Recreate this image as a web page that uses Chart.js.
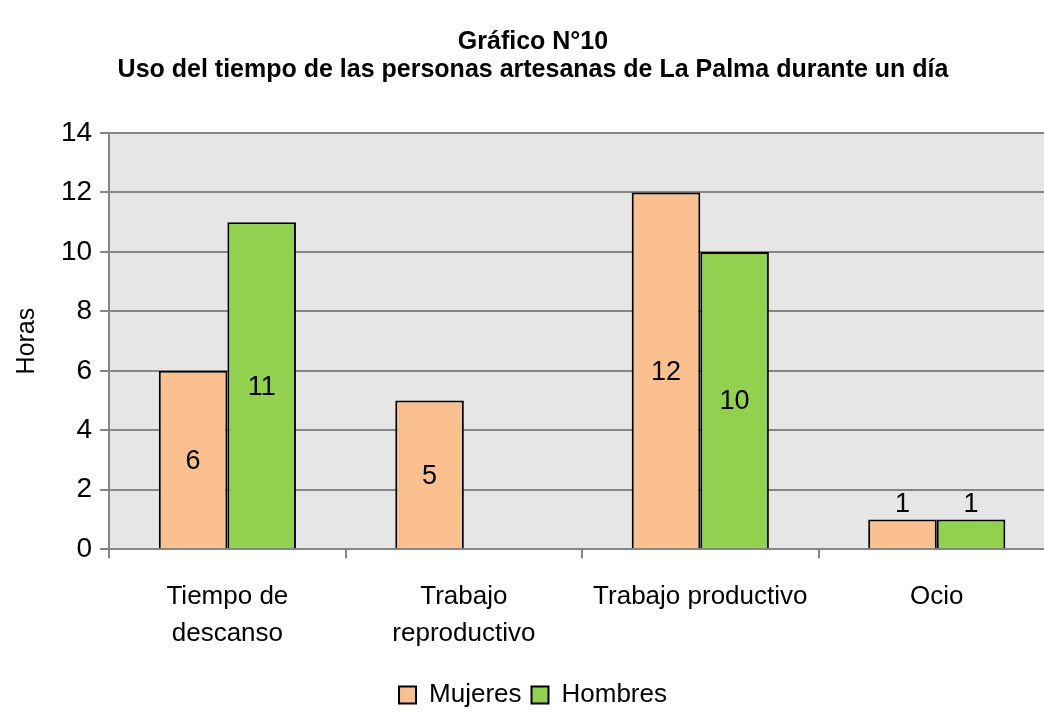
<!DOCTYPE html>
<html>
<head>
<meta charset="utf-8">
<script src="https://cdn.jsdelivr.net/npm/chart.js@4/dist/chart.umd.min.js"></script>
<style>
  html, body { margin: 0; padding: 0; background: #fff; overflow: hidden; }
  #wrap { width: 1074px; height: 713px; }
</style>
</head>
<body>
<div id="wrap"><canvas id="chart" width="1074" height="713"></canvas></div>
<script>
/* Gráfico N°10 — uso del tiempo, artesanas/os de La Palma */

var FONT = "'Liberation Sans Narrow', 'Liberation Sans', Arial, sans-serif";
var GRID = '#868686';

var TITLE_LINES = ['Gráfico N°10', 'Uso del tiempo de las personas artesanas de La Palma durante un día'];
var CATEGORIES = [['Tiempo de', 'descanso'], ['Trabajo', 'reproductivo'], 'Trabajo productivo', 'Ocio'];
var MUJERES = [6, 5, 12, 1];
var HOMBRES = [11, 0, 10, 1];
var Y_TICKS = [0, 2, 4, 6, 8, 10, 12, 14];

/* gray plot background */
var plotBg = {
  id: 'plotBg',
  beforeDraw: function(chart) {
    var a = chart.chartArea, ctx = chart.ctx;
    ctx.save();
    ctx.fillStyle = '#e6e6e6';
    ctx.fillRect(a.left, a.top, a.right - a.left, a.bottom - a.top);
    ctx.restore();
  }
};

/* value labels: centred in the bar, above it when the bar is too short */
var barValues = {
  id: 'barValues',
  afterDatasetsDraw: function(chart) {
    var ctx = chart.ctx;
    ctx.save();
    ctx.font = '27px ' + FONT;
    ctx.fillStyle = '#000';
    ctx.textAlign = 'center';
    chart.data.datasets.forEach(function(ds, i) {
      chart.getDatasetMeta(i).data.forEach(function(bar, j) {
        var v = ds.data[j];
        if (!v) return;
        var h = bar.base - bar.y;
        if (h > 40) {
          ctx.textBaseline = 'middle';
          ctx.fillText(String(v), bar.x, bar.y + h / 2 + 2);
        } else {
          ctx.textBaseline = 'bottom';
          ctx.fillText(String(v), bar.x, bar.y - 1);
        }
      });
    });
    ctx.restore();
  }
};

new Chart(document.getElementById('chart'), {
  type: 'bar',
  data: {
    labels: CATEGORIES,
    datasets: [
      { label: 'Mujeres', data: MUJERES, backgroundColor: '#fac090', borderColor: '#000', borderWidth: 2, borderSkipped: 'bottom' },
      { label: 'Hombres', data: HOMBRES, backgroundColor: '#92d050', borderColor: '#000', borderWidth: 2, borderSkipped: 'bottom' }
    ]
  },
  options: {
    responsive: false,
    animation: false,
    categoryPercentage: 0.58,
    barPercentage: 1,
    layout: { padding: { left: 11, right: 19, top: 0, bottom: -5 } },
    plugins: {
      title: {
        display: true,
        text: TITLE_LINES,
        color: '#000',
        font: { family: FONT, size: 25, weight: 'bold', lineHeight: 1.12 },
        padding: { top: 28, bottom: 49 }
      },
      legend: {
        position: 'bottom',
        labels: {
          color: '#000',
          font: { family: FONT, size: 26 },
          boxWidth: 17,
          boxHeight: 17,
          padding: 10,
          generateLabels: function(chart) {
            return chart.data.datasets.map(function(ds, i) {
              return { text: ds.label, fillStyle: ds.backgroundColor, strokeStyle: '#000', lineWidth: 2, datasetIndex: i };
            });
          }
        }
      },
      tooltip: { enabled: false }
    },
    scales: {
      x: {
        grid: { display: true, drawOnChartArea: false, drawTicks: true, tickLength: 9, color: GRID, lineWidth: 2 },
        border: { color: GRID, width: 2 },
        ticks: { color: '#000', font: { family: FONT, size: 26, lineHeight: 1.42 }, maxRotation: 0, padding: 20 }
      },
      y: {
        min: 0,
        max: 14,
        afterBuildTicks: function(axis) { axis.ticks = Y_TICKS.map(function(v) { return { value: v }; }); },
        grid: { color: GRID, lineWidth: 2, tickLength: 9 },
        border: { color: GRID, width: 2 },
        ticks: { color: '#000', font: { family: FONT, size: 28 }, padding: 8 },
        title: { display: true, text: 'Horas', color: '#000', font: { family: FONT, size: 25 }, padding: { top: 1, bottom: 11 } }
      }
    }
  },
  plugins: [plotBg, barValues]
});
</script>
</body>
</html>
